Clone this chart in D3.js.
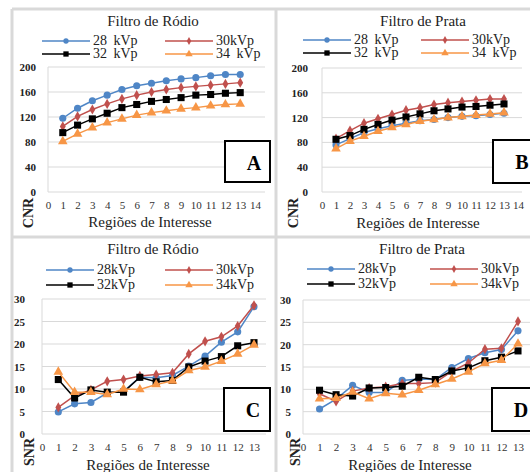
<!DOCTYPE html>
<html>
<head>
<meta charset="utf-8">
<script src="https://cdn.jsdelivr.net/npm/d3@7"></script>
<style>
  body { margin: 0; background: #fff; }
  svg, svg text { font-family: 'Liberation Serif', 'DejaVu Serif', serif !important; }
</style>
</head>
<body>
<script>
'use strict';

// regions of interest (x values)
var regioes = [1, 2, 3, 4, 5, 6, 7, 8, 9, 10, 11, 12, 13];

// CNR, rhodium filter
var cnrRodio28 = [118, 134, 146, 155, 164, 170, 174, 178, 181, 183, 186, 188, 188];
var cnrRodio30 = [105, 121, 132, 141, 149, 155, 160, 164, 167, 169, 171, 173, 175];
var cnrRodio32 = [95, 107, 117, 126, 135, 140, 145, 148, 151, 155, 156, 158, 159];
var cnrRodio34 = [81, 93, 103, 111, 117, 123, 127, 130, 133, 135, 138, 140, 141];

// CNR, silver filter
var cnrPrata28 = [76, 86, 96, 102, 107, 111, 115, 117, 120, 122, 123, 125, 127];
var cnrPrata30 = [86, 99, 111, 118, 125, 132, 136, 141, 144, 146, 148, 150, 150];
var cnrPrata32 = [85, 91, 101, 109, 116, 121, 126, 131, 134, 137, 138, 140, 142];
var cnrPrata34 = [70, 82, 90, 98, 104, 109, 114, 117, 120, 122, 124, 126, 128];

// SNR, rhodium filter
var snrRodio28 = [4.9, 6.7, 7.0, 9.1, 9.5, 12.6, 12.5, 13.0, 15.1, 17.3, 20.4, 22.7, 28.3];
var snrRodio30 = [5.9, 8.5, 9.8, 11.7, 12.1, 12.9, 13.2, 13.6, 17.8, 20.6, 21.6, 24.0, 28.6];
var snrRodio32 = [12.1, 8.0, 9.8, 9.3, 9.3, 12.6, 11.6, 11.9, 14.9, 16.2, 17.2, 19.6, 20.3];
var snrRodio34 = [13.8, 9.3, 9.3, 8.8, 10.0, 9.9, 11.0, 11.8, 14.1, 14.9, 16.2, 17.8, 19.8];

// SNR, silver filter
var snrPrata28 = [5.6, 7.8, 10.9, 9.3, 9.3, 12.0, 12.3, 12.2, 14.9, 16.9, 18.2, 18.9, 23.1];
var snrPrata30 = [9.0, 7.3, 9.6, 10.3, 10.6, 11.3, 11.3, 11.5, 14.0, 15.9, 19.0, 19.2, 25.2];
var snrPrata32 = [9.8, 8.8, 8.5, 10.3, 10.4, 10.7, 12.7, 12.2, 14.1, 14.8, 16.4, 17.2, 18.6];
var snrPrata34 = [7.9, 8.0, 9.4, 7.9, 9.1, 8.8, 9.8, 11.1, 12.3, 13.9, 15.8, 16.5, 20.2];

var serieNomes = ['28 kVp', '30kVp', '32 kVp', '34 kVp'];
var serieNomesSnr = ['28kVp', '30kVp', '32kVp', '34kVp'];
var cnrTicks = [0, 40, 80, 120, 160, 200];
var snrTicks = [0, 5, 10, 15, 20, 25, 30];

var cores = ['#4f86c6', '#c0504d', '#000000', '#f79646'];
var simbolos = [d3.symbolCircle, d3.symbolDiamond, d3.symbolSquare, d3.symbolTriangle];
var tamanhos = [40, 30, 50, 40];
var tamanhosLegenda = [22, 18, 28, 24];
var fonte = "'Liberation Serif', 'DejaVu Serif', serif";

var svg = d3.select('body').append('svg')
  .attr('width', 530).attr('height', 472)
  .attr('font-family', fonte);

// panel separators
var sep = svg.append('g').attr('stroke', '#d9d9d9').attr('stroke-width', 3);
sep.append('line').attr('x1', 12).attr('x2', 12).attr('y1', 9).attr('y2', 472);
sep.append('line').attr('x1', 276).attr('x2', 276).attr('y1', 9).attr('y2', 472);
sep.append('line').attr('x1', 12).attr('x2', 530).attr('y1', 9).attr('y2', 9);
sep.append('line').attr('x1', 12).attr('x2', 530).attr('y1', 237).attr('y2', 237);

var drawPanel = function(cfg) {
  var g = svg.append('g');
  var x = d3.scaleLinear().domain([0, cfg.xMax]).range([cfg.left, cfg.xEnd]);
  var y = d3.scaleLinear().domain([0, cfg.yMax]).range([cfg.bottom, cfg.top]);

  // gridlines
  g.append('g').selectAll('line').data(cfg.yTicks).enter().append('line')
    .attr('x1', cfg.left).attr('x2', cfg.gridRight)
    .attr('y1', function(d) { return y(d); }).attr('y2', function(d) { return y(d); })
    .attr('stroke', '#d9d9d9').attr('stroke-width', 1);
  g.append('line').attr('x1', cfg.left).attr('x2', cfg.left)
    .attr('y1', cfg.top).attr('y2', cfg.bottom)
    .attr('stroke', '#d9d9d9');

  // y axis labels
  var yAxis = d3.axisLeft(y).tickValues(cfg.yTicks).tickSize(0).tickPadding(cfg.yPad);
  var ya = g.append('g').attr('transform', 'translate(' + cfg.left + ',0)').call(yAxis)
    .attr('font-family', fonte);
  ya.select('.domain').remove();
  ya.selectAll('text').attr('font-size', 11).attr('font-weight', 'bold').attr('fill', '#222');

  // x axis labels
  var xAxis = d3.axisBottom(x).tickValues(d3.range(0, cfg.xMax + 1)).tickSize(0).tickPadding(cfg.xPad);
  var xa = g.append('g').attr('transform', 'translate(0,' + cfg.bottom + ')').call(xAxis)
    .attr('font-family', fonte);
  xa.select('.domain').remove();
  xa.selectAll('text').attr('font-size', 11).attr('fill', '#333');

  // series
  var line = d3.line().x(function(d, i) { return x(regioes[i]); }).y(function(d) { return y(d); });
  cfg.series.forEach(function(s, k) {
    g.append('path').datum(s).attr('d', line)
      .attr('fill', 'none').attr('stroke', cores[k]).attr('stroke-width', 1.5);
    g.append('g').selectAll('path').data(s).enter().append('path')
      .attr('d', d3.symbol().type(simbolos[k]).size(tamanhos[k]))
      .attr('transform', function(d, i) { return 'translate(' + x(regioes[i]) + ',' + y(d) + ')'; })
      .attr('fill', cores[k]);
  });

  // title
  g.append('text').attr('x', cfg.titleX).attr('y', cfg.titleY)
    .attr('text-anchor', 'middle').attr('font-size', 15).attr('fill', '#222')
    .text(cfg.title);

  // legend
  cfg.nomes.forEach(function(n, k) {
    var lx = cfg.legX[k % 2];
    var ly = cfg.legY[Math.floor(k / 2)];
    g.append('line').attr('x1', lx).attr('x2', lx + 48).attr('y1', ly).attr('y2', ly)
      .attr('stroke', cores[k]).attr('stroke-width', 1.5);
    g.append('path').attr('d', d3.symbol().type(simbolos[k]).size(tamanhosLegenda[k]))
      .attr('transform', 'translate(' + (lx + 24) + ',' + ly + ')').attr('fill', cores[k]);
    g.append('text').attr('x', lx + 51).attr('y', ly + 4)
      .attr('font-size', 14).attr('fill', '#222').style('word-spacing', '3px')
      .text(n);
  });

  // axis titles
  g.append('text').attr('transform', 'translate(' + cfg.yTitleX + ',' + cfg.yTitleY + ') rotate(-90)')
    .attr('text-anchor', 'middle').attr('font-size', 14).attr('font-weight', 'bold').attr('fill', '#222')
    .text(cfg.yTitle);
  g.append('text').attr('x', cfg.xTitleX).attr('y', cfg.xTitleY)
    .attr('text-anchor', 'middle').attr('font-size', 15).attr('fill', '#222')
    .text('Regiões de Interesse');

  // letter box
  g.append('rect').attr('x', cfg.box[0]).attr('y', cfg.box[1])
    .attr('width', cfg.box[2]).attr('height', cfg.box[3])
    .attr('fill', '#fff').attr('stroke', '#000').attr('stroke-width', 2);
  g.append('text').attr('x', cfg.box[0] + 29).attr('y', cfg.box[1] + 29)
    .attr('text-anchor', 'middle').attr('font-size', 20).attr('font-weight', 'bold')
    .text(cfg.letra);
};

drawPanel({
  title: 'Filtro de Ródio', letra: 'A', yTitle: 'CNR', nomes: serieNomes,
  series: [cnrRodio28, cnrRodio30, cnrRodio32, cnrRodio34],
  xMax: 14, yMax: 200, yTicks: cnrTicks,
  left: 48, xEnd: 255, gridRight: 265, top: 67, bottom: 192, yPad: 12, xPad: 9,
  titleX: 153, titleY: 26, legX: [42, 165], legY: [41, 54],
  yTitleX: 33, yTitleY: 213, xTitleX: 150, xTitleY: 227,
  box: [225, 141, 45, 41]
});

drawPanel({
  title: 'Filtro de Prata', letra: 'B', yTitle: 'CNR', nomes: serieNomes,
  series: [cnrPrata28, cnrPrata30, cnrPrata32, cnrPrata34],
  xMax: 14, yMax: 200, yTicks: cnrTicks,
  left: 322, xEnd: 518, gridRight: 522, top: 68, bottom: 192, yPad: 14, xPad: 9,
  titleX: 423, titleY: 26, legX: [303, 421], legY: [40, 53],
  yTitleX: 298, yTitleY: 213, xTitleX: 418, xTitleY: 228,
  box: [493, 140, 45, 43]
});

drawPanel({
  title: 'Filtro de Ródio', letra: 'C', yTitle: 'SNR', nomes: serieNomesSnr,
  series: [snrRodio28, snrRodio30, snrRodio32, snrRodio34],
  xMax: 13, yMax: 30, yTicks: snrTicks,
  left: 42, xEnd: 254, gridRight: 266, top: 299, bottom: 434, yPad: 17, xPad: 9,
  titleX: 153, titleY: 254, legX: [46, 165], legY: [270, 285],
  yTitleX: 34, yTitleY: 452, xTitleX: 148, xTitleY: 470,
  box: [224, 388, 46, 43]
});

drawPanel({
  title: 'Filtro de Prata', letra: 'D', yTitle: 'SNR', nomes: serieNomesSnr,
  series: [snrPrata28, snrPrata30, snrPrata32, snrPrata34],
  xMax: 13, yMax: 30, yTicks: snrTicks,
  left: 303, xEnd: 518, gridRight: 530, top: 300, bottom: 434, yPad: 12, xPad: 9,
  titleX: 422, titleY: 254, legX: [307, 430], legY: [269, 284],
  yTitleX: 300, yTitleY: 452, xTitleX: 410, xTitleY: 470,
  box: [492, 388, 46, 43]
});
</script>
</body>
</html>
